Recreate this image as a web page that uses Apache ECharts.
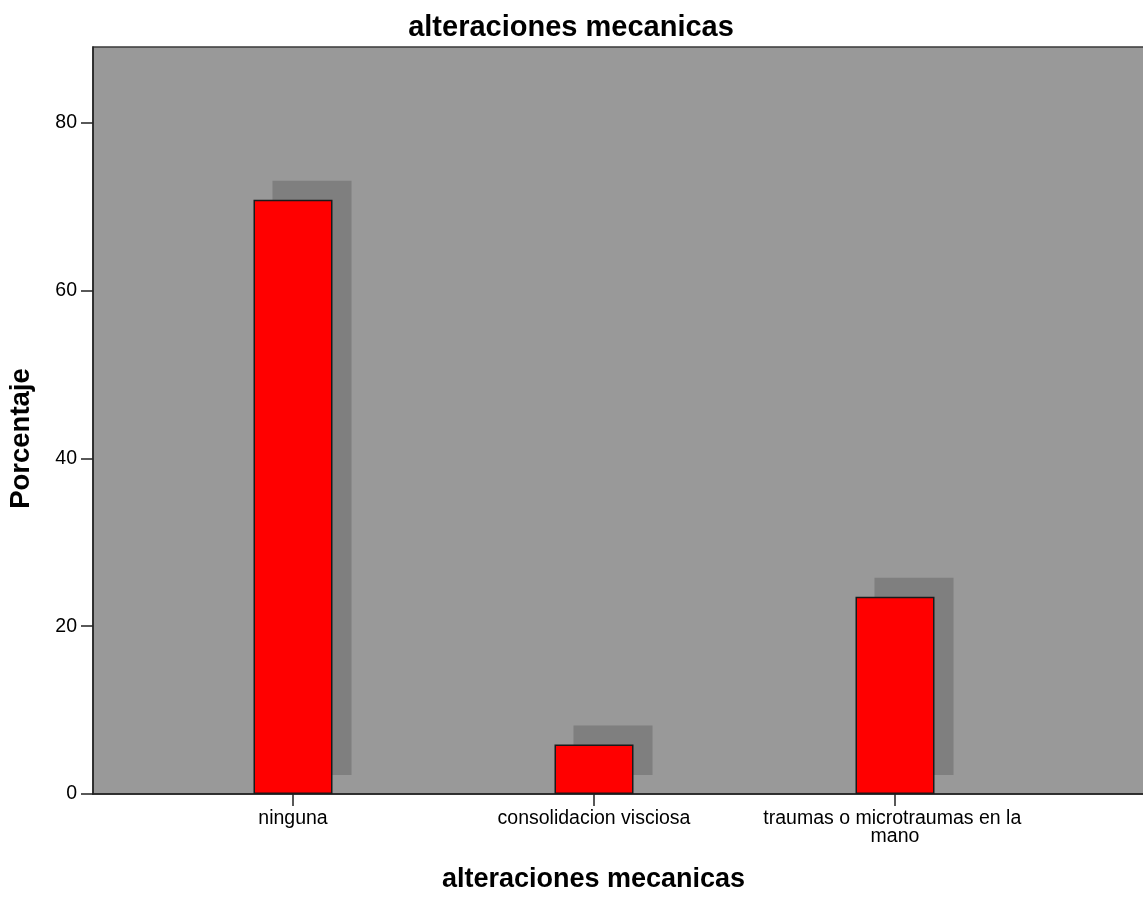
<!DOCTYPE html>
<html>
<head>
<meta charset="utf-8">
<style>
  html, body { margin: 0; padding: 0; background: #ffffff; }
  #chart { width: 1143px; height: 897px; }
</style>
<script src="https://cdn.jsdelivr.net/npm/echarts@6/dist/echarts.min.js"></script>
</head>
<body>
<div id="chart"></div>
<script>
// Categories and percentages
const categories = ['ninguna', 'consolidacion visciosa', 'traumas o microtraumas en la mano'];
const percentages = [70.8, 5.9, 23.5];
const yTicks = [0, 20, 40, 60, 80];

const chartTitle = 'alteraciones mecanicas';
const xTitle = 'alteraciones mecanicas';
const yTitle = 'Porcentaje';

const FONT = '"Liberation Sans", Arial, sans-serif';
const BAR_W = 79;          // bar width in px
const SHADOW_DX = 19;      // drop-shadow offset
const SHADOW_DY = -19;
const STEP = 301;          // px between category centres
const PLOT_W = 1056;       // plot width (runs past the right edge)

const barData = categories.map((c, i) => [i, percentages[i]]);
const catIndex = categories.map((c, i) => i);

const chart = echarts.init(document.getElementById('chart'), null, { renderer: 'canvas' });

chart.setOption({
  animation: false,
  backgroundColor: '#ffffff',
  title: {
    text: chartTitle,
    left: 566,
    textAlign: 'center',
    top: 8,
    textStyle: { fontFamily: FONT, fontSize: 29, fontWeight: 'bold', color: '#000' }
  },
  grid: {
    left: 93, width: PLOT_W, top: 47, bottom: 103,
    outerBoundsMode: 'none',
    containLabel: false,
    show: true,
    backgroundColor: '#999999',
    borderColor: '#3a3a3a',
    borderWidth: 1.5
  },
  xAxis: {
    type: 'value',
    min: -200 / STEP,
    max: -200 / STEP + PLOT_W / STEP,
    splitLine: { show: false },
    axisLine: { show: true, onZero: false, lineStyle: { color: '#222', width: 1.5 } },
    axisTick: { show: true, length: 12, customValues: catIndex, lineStyle: { color: '#222', width: 1.5 } },
    axisLabel: {
      customValues: catIndex,
      formatter: v => categories[Math.round(v)],
      fontFamily: FONT, fontSize: 19.5, color: '#000',
      margin: 16, width: 275, overflow: 'break', lineHeight: 18, align: 'center'
    },
    name: xTitle,
    nameLocation: 'middle',
    nameGap: 72,
    nameTextStyle: { fontFamily: FONT, fontSize: 27, fontWeight: 'bold', color: '#000', padding: [0, 55, 0, 0] }
  },
  yAxis: {
    type: 'value',
    min: 0,
    max: 89,
    splitLine: { show: false },
    axisLine: { show: true, onZero: false, lineStyle: { color: '#222', width: 1.5 } },
    axisTick: { show: true, length: 12, customValues: yTicks, lineStyle: { color: '#222', width: 1.5 } },
    axisLabel: { customValues: yTicks, fontFamily: FONT, fontSize: 19.5, color: '#000', margin: 16 },
    name: yTitle,
    nameLocation: 'middle',
    nameGap: 58,
    nameTextStyle: { fontFamily: FONT, fontSize: 27.5, fontWeight: 'bold', color: '#000', padding: [0, 36, 0, 0] }
  },
  series: [
    {
      // drop shadow behind each bar
      type: 'custom',
      z: 1,
      silent: true,
      data: barData,
      renderItem: function (params, api) {
        const top = api.coord([api.value(0), api.value(1)]);
        const base = api.coord([api.value(0), 0]);
        return {
          type: 'rect',
          shape: {
            x: top[0] - BAR_W / 2 + SHADOW_DX,
            y: top[1] + SHADOW_DY,
            width: BAR_W,
            height: base[1] - top[1]
          },
          style: { fill: '#7f7f7f' }
        };
      }
    },
    {
      type: 'bar',
      z: 2,
      data: barData,
      barWidth: BAR_W,
      itemStyle: { color: '#ff0000', borderColor: '#1a1a1a', borderWidth: 1.5 }
    }
  ]
});
</script>
</body>
</html>
